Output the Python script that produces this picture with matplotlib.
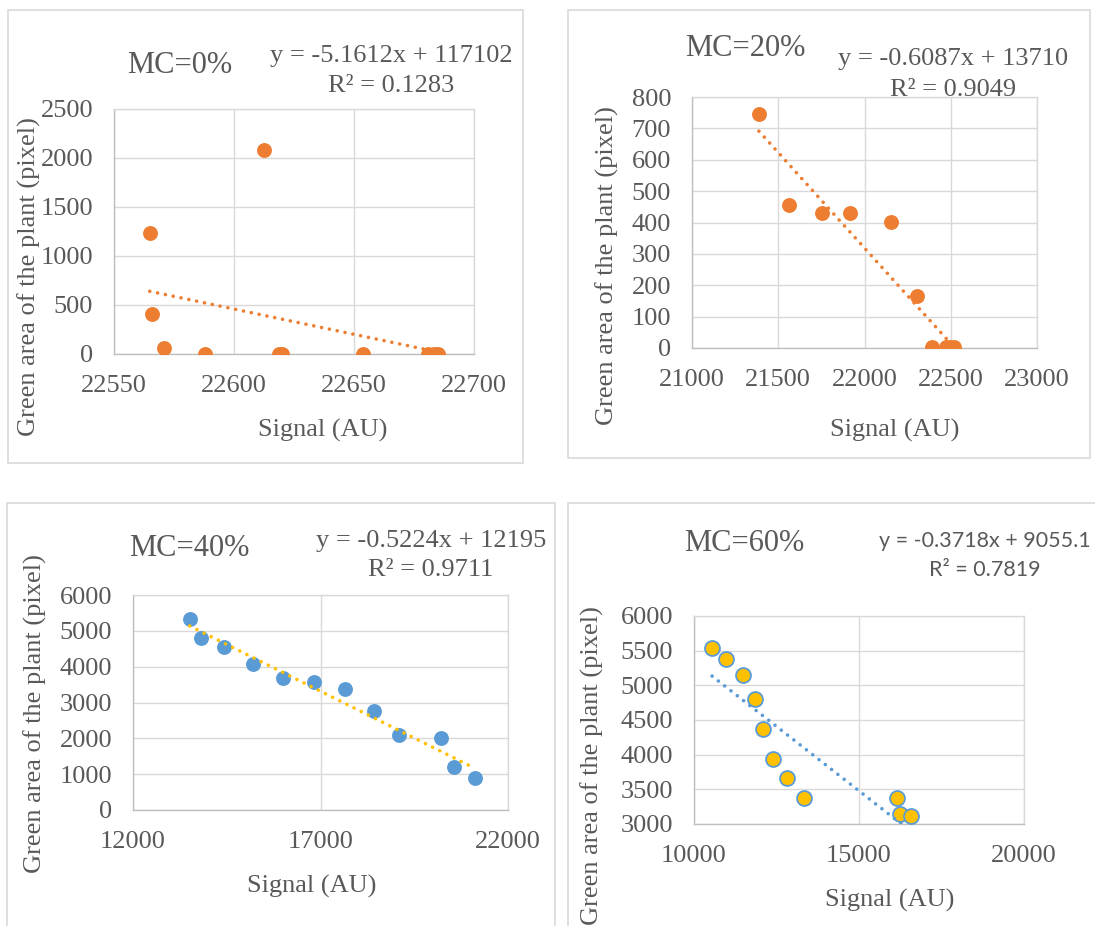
import matplotlib
matplotlib.use('Agg')
import matplotlib.pyplot as plt
from matplotlib.patches import Rectangle
import numpy as np

# MC=0%
signal_0 = [22564.9, 22612.7, 22565.8, 22570.8, 22587.8, 22618.7, 22620.2,
            22653.9, 22680.7, 22683.4, 22685.1]
area_0 = [1231, 2078, 408, 65, 0, 0, 0, 0, 0, 0, 0]
fit_0 = (-5.1612, 117102)
eq_0 = ['y = -5.1612x + 117102', 'R² = 0.1283']

# MC=20%
signal_20 = [21388, 21564, 21754, 21918, 22151, 22306, 22393, 22470, 22496, 22519]
area_20 = [746, 455, 429, 429, 403, 166, 3, 3, 3, 3]
fit_20 = (-0.6087, 13710)
eq_20 = ['y = -0.6087x + 13710', 'R² = 0.9049']

# MC=40%
signal_40 = [13514, 13800, 14438, 15210, 16010, 16838, 17648, 18419, 19095,
             20219, 20552, 21124]
area_40 = [5342, 4813, 4544, 4080, 3682, 3580, 3366, 2773, 2087, 2003, 1206, 900]
fit_40 = (-0.5224, 12195)
eq_40 = ['y = -0.5224x + 12195', 'R² = 0.9711']

# MC=60%
signal_60 = [10548, 10962, 11489, 11851, 12099, 12399, 12823, 13340, 16163,
             16246, 16567]
area_60 = [5544, 5386, 5146, 4800, 4373, 3941, 3658, 3379, 3374, 3139, 3110]
fit_60 = (-0.3718, 9055.1)
eq_60 = ['y = -0.3718x + 9055.1', 'R² = 0.7819']

W, H = 1095, 926
SERIF = 'Liberation Serif'
TXT = '#595959'
GRID = '#D9D9D9'
ORANGE = '#ED7D31'
BLUE = '#5B9BD5'
GOLD = '#FFC000'

plt.rcParams['font.family'] = SERIF
fig = plt.figure(figsize=(W / 100, H / 100), dpi=100)


def fbox(x0, y0, x1, y1):
    return [x0 / W, 1 - y1 / H, (x1 - x0) / W, (y1 - y0) / H]


def ftext(x, y, s, **kw):
    kw.setdefault('color', TXT)
    kw.setdefault('family', SERIF)
    return fig.text(x / W, 1 - y / H, s, **kw)


def border(x0, y0, x1, y1):
    fig.patches.append(Rectangle((x0 / W, 1 - y1 / H), (x1 - x0) / W, (y1 - y0) / H,
                                 transform=fig.transFigure, fill=False,
                                 edgecolor=GRID, lw=1.2))


def equation(x, y1, y2, lines, **kw):
    # two centred lines, each placed on its own baseline
    ftext(x, y1, lines[0], ha='center', va='baseline', zorder=-1, **kw)
    ftext(x, y2, lines[1], ha='center', va='baseline', zorder=-1, **kw)


def panel(rect, xs, ys, fit, xlim, xstep, ylim, ystep, mcol, mec, tcol):
    ax = fig.add_axes(fbox(*rect))
    ax.set_xlim(*xlim)
    ax.set_ylim(*ylim)
    ax.set_xticks(np.arange(xlim[0], xlim[1] + 1, xstep))
    ax.set_yticks(np.arange(ylim[0], ylim[1] + 1, ystep))
    ax.grid(True, color=GRID, lw=1.0)
    ax.set_axisbelow(True)
    for side in ['top', 'right']:
        ax.spines[side].set_color(GRID)
    for side in ['left', 'bottom']:
        ax.spines[side].set_color('#BFBFBF')
    for sp in ax.spines.values():
        sp.set_linewidth(1.0)
    ax.tick_params(length=0, labelsize=19, labelcolor=TXT, pad=15)
    ax.scatter(xs, ys, s=115, color=mcol, edgecolors=mec, linewidths=1.3 if mec != mcol else 0,
               zorder=3)
    xx = np.array([min(xs), max(xs)])
    ax.plot(xx, fit[0] * xx + fit[1], color=tcol, lw=2.6, dashes=(0.01, 2.2),
            dash_capstyle='round', zorder=4)
    return ax


# top-left
border(8, 10, 523, 463)
panel((114, 109, 474, 354), signal_0, area_0, fit_0, (22550, 22700), 50,
      (0, 2500), 500, ORANGE, ORANGE, ORANGE)
ftext(180, 73, 'MC=0%', fontsize=22, ha='center', va='baseline')
equation(391, 62, 92, eq_0, fontsize=19)
ftext(29, 277, 'Green area of the plant (pixel)', fontsize=19, rotation=90,
      ha='center', va='center')
ftext(323, 437, 'Signal (AU)', fontsize=19, ha='center', va='baseline')

# top-right
border(568, 10, 1090, 458)
panel((692, 97, 1037, 348), signal_20, area_20, fit_20, (21000, 23000), 500,
      (0, 800), 100, ORANGE, ORANGE, ORANGE)
ftext(745, 56, 'MC=20%', fontsize=22, ha='center', va='baseline')
equation(953, 65, 96, eq_20, fontsize=19)
ftext(607, 266, 'Green area of the plant (pixel)', fontsize=19, rotation=90,
      ha='center', va='center')
ftext(895, 437, 'Signal (AU)', fontsize=19, ha='center', va='baseline')

# bottom-left
border(7, 503, 555, 940)
panel((133, 595, 508, 810), signal_40, area_40, fit_40, (12000, 22000), 5000,
      (0, 6000), 1000, BLUE, BLUE, GOLD)
ftext(189, 556, 'MC=40%', fontsize=22, ha='center', va='baseline')
equation(431, 547, 576, eq_40, fontsize=19)
ftext(35, 714, 'Green area of the plant (pixel)', fontsize=19, rotation=90,
      ha='center', va='center')
ftext(312, 893, 'Signal (AU)', fontsize=19, ha='center', va='baseline')

# bottom-right
border(568, 503, 1110, 940)
panel((694, 616, 1024, 824), signal_60, area_60, fit_60, (10000, 20000), 5000,
      (3000, 6000), 500, GOLD, BLUE, BLUE)
ftext(744, 551, 'MC=60%', fontsize=22, ha='center', va='baseline')
equation(985, 547, 576, eq_60, fontsize=15.5, family='Lato')
ftext(592, 766, 'Green area of the plant (pixel)', fontsize=19, rotation=90,
      ha='center', va='center')
ftext(890, 907, 'Signal (AU)', fontsize=19, ha='center', va='baseline')

fig.savefig('out.png', dpi=100)
